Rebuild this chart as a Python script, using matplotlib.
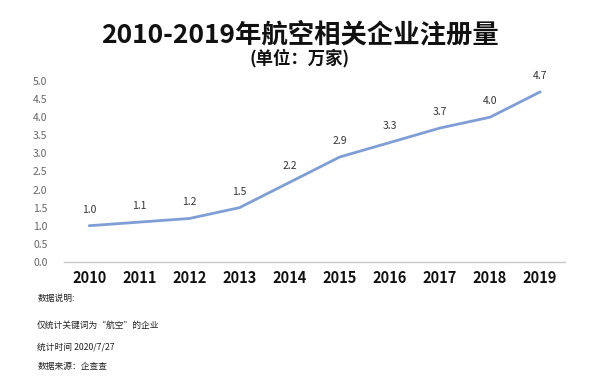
import matplotlib.pyplot as plt

plt.rcParams['font.family'] = ['Noto Sans CJK SC', 'DejaVu Sans']

years = ['2010', '2011', '2012', '2013', '2014', '2015', '2016', '2017', '2018', '2019']
counts = [1.0, 1.1, 1.2, 1.5, 2.2, 2.9, 3.3, 3.7, 4.0, 4.7]
notes = ['数据说明:', '仅统计关键词为“航空”的企业', '统计时间 2020/7/27', '数据来源：企查查']

fig = plt.figure(figsize=(6, 3.84), dpi=100)
ax = fig.add_axes([0.107, 0.318, 0.835, 0.471])

x = list(range(len(years)))
ax.plot(x, counts, color='#7f9ed6', linewidth=2, solid_capstyle='round')
for xi, v in zip(x, counts):
    ax.annotate('%.1f' % v, (xi, v), xytext=(0, 8), textcoords='offset points',
                ha='center', va='bottom', fontsize=7.5, color='#333333')

ax.set_xlim(-0.5, len(years) - 0.5)
ax.set_ylim(0, 5)
ax.set_yticks([i * 0.5 for i in range(11)])
ax.set_yticklabels(['%.1f' % (i * 0.5) for i in range(11)], fontsize=7.5, color='#666666')
ax.set_xticks(x)
ax.set_xticklabels(years, fontsize=10.5, fontweight='bold', color='#111111')
ax.tick_params(axis='both', length=0)
ax.tick_params(axis='y', pad=12)
ax.tick_params(axis='x', pad=6)
for s in ['top', 'right', 'left']:
    ax.spines[s].set_visible(False)
ax.spines['bottom'].set_color('#c8c8c8')
ax.spines['bottom'].set_linewidth(1)

fig.text(0.5, 0.91, '2010-2019年航空相关企业注册量', ha='center', va='center',
         fontsize=19, fontweight='bold', color='#111111')
fig.text(0.5, 0.848, '(单位：万家)', ha='center', va='center',
         fontsize=12.5, fontweight='bold', color='#111111')

ys = [298, 325, 347, 366]
for t, yy in zip(notes, ys):
    fig.text(0.062, 1 - yy / 384, t, ha='left', va='center', fontsize=6.3, color='#222222')

fig.savefig('out.png', dpi=100, facecolor='white')
